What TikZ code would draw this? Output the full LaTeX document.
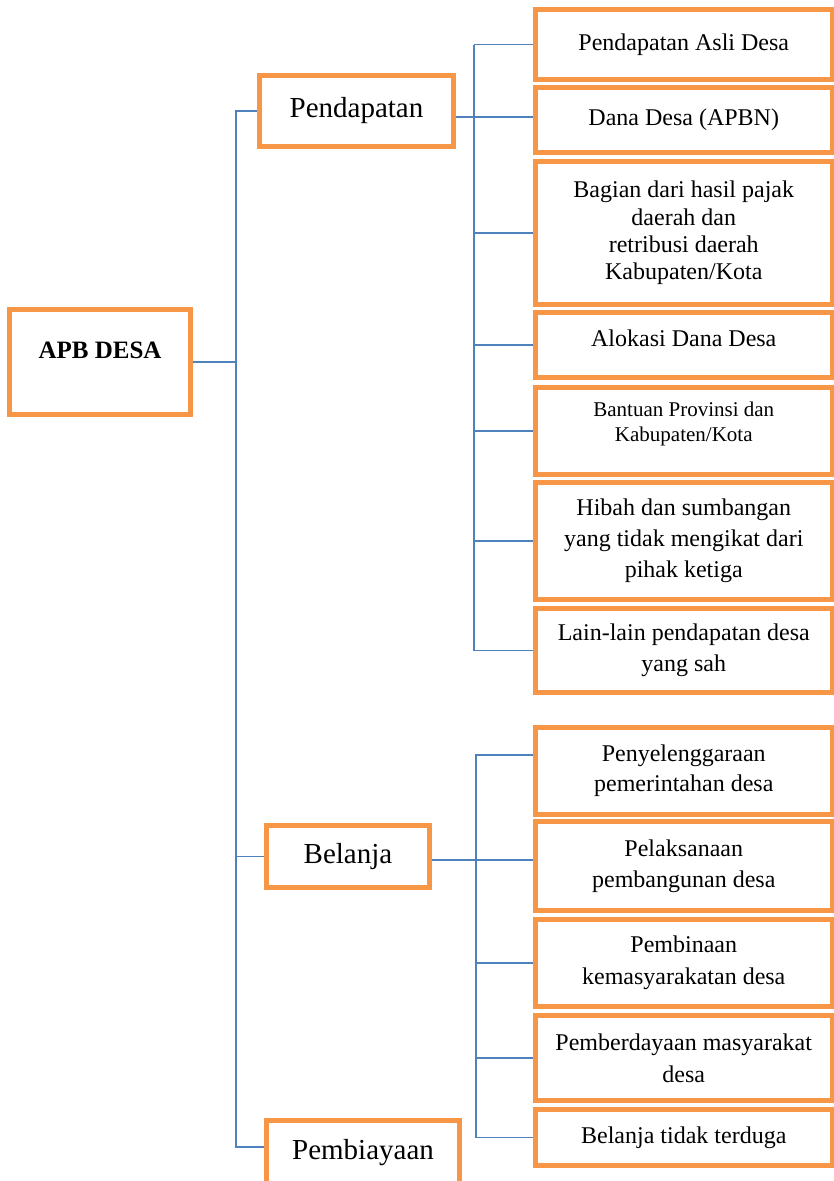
\documentclass[tikz,border=0pt]{standalone}
\usepackage{fontspec}
\setmainfont{Liberation Serif}
\usepackage{tikz}

\definecolor{boxorange}{HTML}{F79646}
\definecolor{linkblue}{HTML}{4F81BD}

\newcommand{\liftup}[2]{\raisebox{#1}[\height][\depth]{#2}}

\tikzset{
    apbbox/.style={draw=boxorange, line width=5pt, inner sep=0pt,
        minimum width=181pt, minimum height=105pt,
        font=\fontsize{25}{30}\selectfont\bfseries},
    catbox/.style={draw=boxorange, line width=5pt, inner sep=0pt,
        font=\fontsize{29}{34}\selectfont},
    subbox/.style={draw=boxorange, line width=5pt, inner sep=0pt,
        minimum width=296.5pt, align=center,
        font=\fontsize{24}{31}\selectfont},
    link/.style={draw=linkblue, line width=1.8pt}
}

\begin{document}
\begin{tikzpicture}[x=1pt, y=-1pt]
    \useasboundingbox (0,0) rectangle (834,1181);

    \node[apbbox] (apb) at (100,362) {\liftup{12pt}{APB DESA}};
    \node[catbox, minimum width=194pt, minimum height=71pt] (pendapatan) at (356.5,111) {Pendapatan};
    \node[catbox, minimum width=163pt, minimum height=62pt] (belanja) at (348,856.5) {Belanja};
    \node[catbox, minimum width=193pt, minimum height=70pt] (pembiayaan) at (363,1155.5) {\liftup{3pt}{Pembiayaan}};

    % pendapatan
    \node[subbox, minimum height=70pt] (pad) at (683.75,44.5) {Pendapatan Asli Desa};
    \node[subbox, minimum height=65pt] (dana) at (683.75,120) {Dana Desa (APBN)};
    \node[subbox, minimum height=143pt, font=\fontsize{24}{27.3}\selectfont] (bagian) at (683.75,233)
        {Bagian dari hasil pajak\\daerah dan\\retribusi daerah\\Kabupaten/Kota};
    \node[subbox, minimum height=65pt] (alokasi) at (683.75,345) {\liftup{7pt}{Alokasi Dana Desa}};
    \node[subbox, minimum height=87pt, font=\fontsize{21}{25}\selectfont] (bantuan) at (683.75,431)
        {\liftup{7.5pt}{\begin{tabular}{@{}c@{}}Bantuan Provinsi dan\\Kabupaten/Kota\end{tabular}}};
    \node[subbox, minimum height=117pt] (hibah) at (683.75,541)
        {Hibah dan sumbangan\\yang tidak mengikat dari\\pihak ketiga};
    \node[subbox, minimum height=84pt] (lain) at (683.75,650.5) {Lain-lain pendapatan desa\\yang sah};

    % belanja
    \node[subbox, minimum height=87pt, font=\fontsize{24}{30}\selectfont] (peny) at (683.75,771)
        {Penyelenggaraan\\pemerintahan desa};
    \node[subbox, minimum height=89pt] (pelaksanaan) at (683.75,866) {Pelaksanaan\\pembangunan desa};
    \node[subbox, minimum height=87pt, font=\fontsize{24}{32}\selectfont] (pembinaan) at (683.75,963)
        {Pembinaan\\kemasyarakatan desa};
    \node[subbox, minimum height=85pt, font=\fontsize{24}{32}\selectfont] (pemberdayaan) at (683.75,1058)
        {Pemberdayaan masyarakat\\desa};
    \node[subbox, minimum height=56pt] (terduga) at (683.75,1137.5) {Belanja tidak terduga};

    \coordinate (spine) at (236,0);
    \coordinate (pspine) at (474,0);
    \coordinate (bspine) at (476,0);
    \coordinate (pendout) at ([yshift=-6pt]pendapatan.east);
    \coordinate (belout) at ([yshift=-3.5pt]belanja.east);
    \coordinate (pembin) at ([yshift=8.5pt]pembiayaan.west);
    \coordinate (penyin) at ([yshift=16pt]peny.west);

    % main spine
    \draw[link] (apb.east) -- (apb.east -| spine);
    \draw[link] (pendapatan.west) -- (pendapatan.west -| spine) -- (pembin -| spine) -- (pembin);
    \draw[link] (belanja.west) -- (belanja.west -| spine);

    % pendapatan branch
    \draw[link] (pendout) -- (pendout -| dana.west);
    \draw[link] (pad.west -| pspine) -- (lain.west -| pspine);
    \foreach \n in {pad,bagian,alokasi,bantuan,hibah,lain}
        \draw[link] (\n.west) -- (\n.west -| pspine);

    % belanja branch
    \draw[link] (belout) -- (belout -| pelaksanaan.west);
    \draw[link] (penyin) -- (penyin -| bspine) -- (terduga.west -| bspine) -- (terduga.west);
    \foreach \n in {pembinaan,pemberdayaan}
        \draw[link] (\n.west) -- (\n.west -| bspine);
\end{tikzpicture}
\end{document}
